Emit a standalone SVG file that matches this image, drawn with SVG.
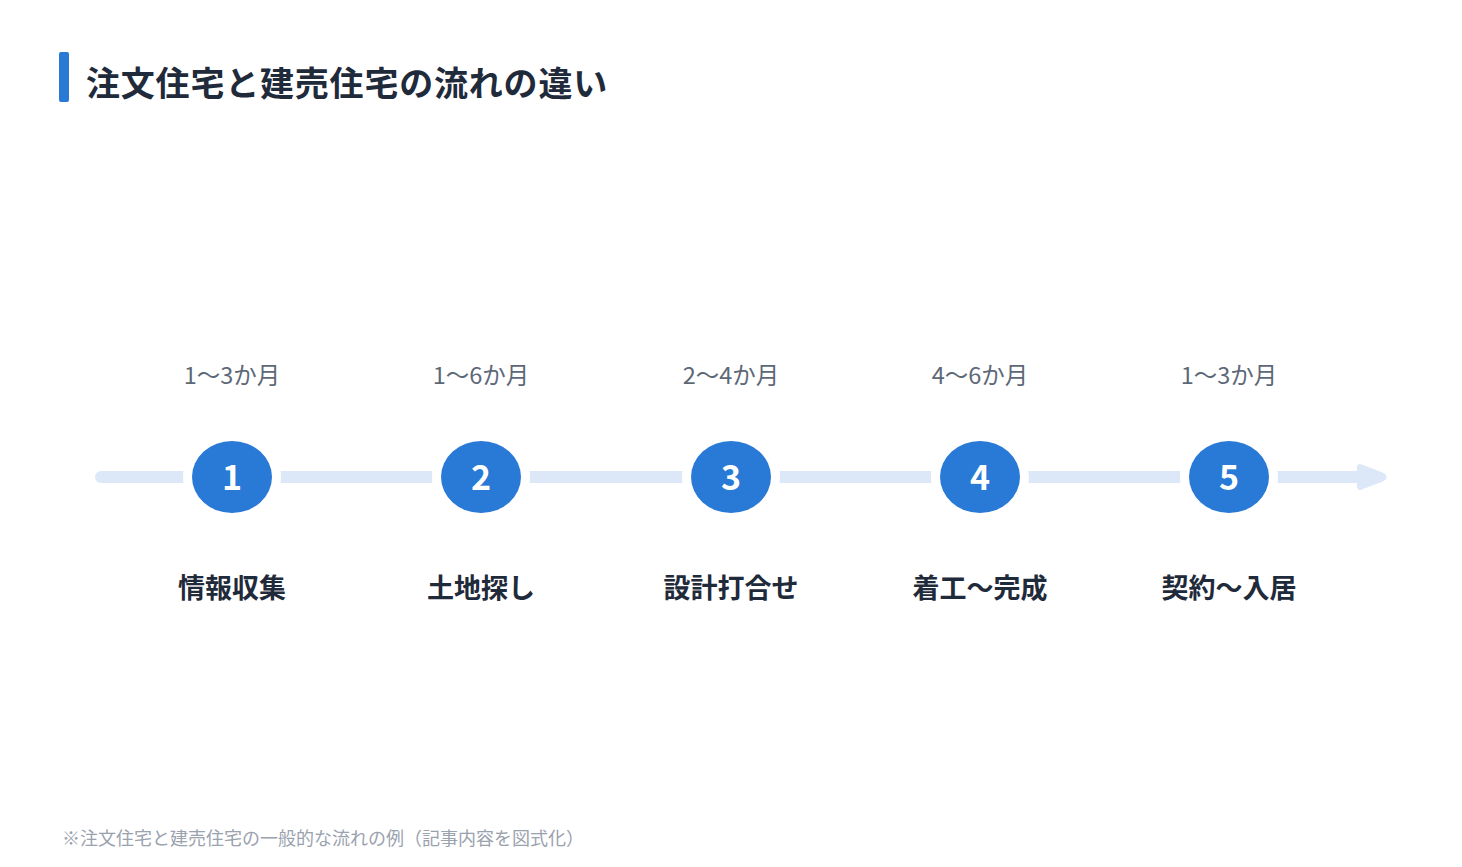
<svg xmlns="http://www.w3.org/2000/svg" width="1462" height="867" viewBox="0 0 1462 867">
<style>
.t{font-family:"Noto Sans CJK JP","Noto Sans",sans-serif}
.title{font-size:34px;font-weight:700;fill:#1f2a3a;letter-spacing:0.8px}
.dur{font-size:23.5px;font-weight:400;fill:#5d6877;text-anchor:middle}
.lbl{font-size:27px;font-weight:700;fill:#1f2a3a;text-anchor:middle}
.num{font-size:34px;font-weight:700;fill:#ffffff;text-anchor:middle}
.dot{fill:#2979d6;stroke:#ffffff;stroke-width:18;paint-order:stroke}
.note{font-size:18px;fill:#9aa2ae}
</style>
<rect width="1462" height="867" fill="#ffffff"/>
<g id="title">
<rect x="59" y="52" width="10" height="50" rx="2" fill="#2979d6"/>
<text class="t title" x="86" y="96">注文住宅と建売住宅の流れの違い</text>
</g>
<g id="connectors">
<line x1="101" y1="477" x2="1366" y2="477" stroke="#dce8f7" stroke-width="12" stroke-linecap="round"/>
<path d="M1360 467 L1381 475 Q1386 477 1381 479 L1360 487 Z" fill="#dce8f7" stroke="#dce8f7" stroke-width="6" stroke-linejoin="round"/>
</g>
<g id="step1">
<text class="t dur" x="232" y="384">1～3か月</text>
<ellipse class="dot" cx="232" cy="477" rx="40" ry="36"/>
<text class="t num" x="232" y="490">1</text>
<text class="t lbl" x="232" y="598">情報収集</text>
</g>
<g id="step2">
<text class="t dur" x="481" y="384">1～6か月</text>
<ellipse class="dot" cx="481" cy="477" rx="40" ry="36"/>
<text class="t num" x="481" y="490">2</text>
<text class="t lbl" x="481" y="598">土地探し</text>
</g>
<g id="step3">
<text class="t dur" x="731" y="384">2～4か月</text>
<ellipse class="dot" cx="731" cy="477" rx="40" ry="36"/>
<text class="t num" x="731" y="490">3</text>
<text class="t lbl" x="731" y="598">設計打合せ</text>
</g>
<g id="step4">
<text class="t dur" x="980" y="384">4～6か月</text>
<ellipse class="dot" cx="980" cy="477" rx="40" ry="36"/>
<text class="t num" x="980" y="490">4</text>
<text class="t lbl" x="980" y="598">着工～完成</text>
</g>
<g id="step5">
<text class="t dur" x="1229" y="384">1～3か月</text>
<ellipse class="dot" cx="1229" cy="477" rx="40" ry="36"/>
<text class="t num" x="1229" y="490">5</text>
<text class="t lbl" x="1229" y="598">契約～入居</text>
</g>
<g id="note">
<text class="t note" x="62" y="845">※注文住宅と建売住宅の一般的な流れの例（記事内容を図式化）</text>
</g>
</svg>
